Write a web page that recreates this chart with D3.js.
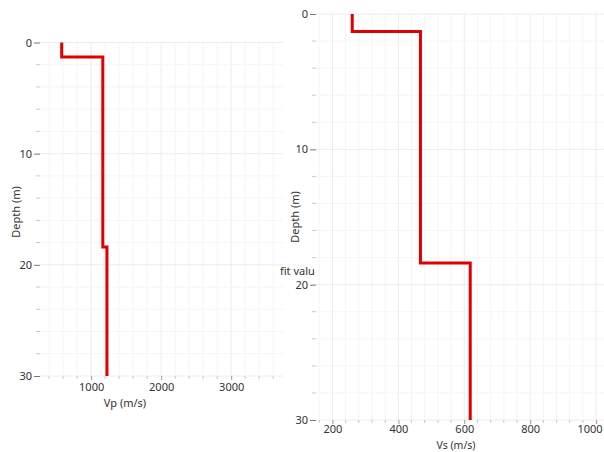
<!DOCTYPE html>
<html><head><meta charset="utf-8">
<script src="https://cdn.jsdelivr.net/npm/d3@7/dist/d3.min.js"></script>
<style>
html,body{margin:0;padding:0;background:#fff;}
text{font-family:"Noto Sans",sans-serif;}
</style></head>
<body><svg id="c" width="604" height="452"></svg>
<script>
// Layer model data
const layerTops = [0, 1.3, 18.4];
const bottomDepth = 30;
const vpValues = [580, 1167, 1226];
const vsValues = [260, 467, 618];
const depthTicks = [0, 10, 20, 30];
const vpTicks = [1000, 2000, 3000];
const vsTicks = [200, 400, 600, 800, 1000];

const svg = d3.select("#c");
svg.append("defs").append("clipPath").attr("id","labclip")
  .append("rect").attr("x",276).attr("y",255).attr("width",39).attr("height",30);

function profilePoints(vals){
  const pts = [];
  vals.forEach((v,i)=>{
    const top = layerTops[i];
    const bot = i+1 < layerTops.length ? layerTops[i+1] : bottomDepth;
    pts.push([v, top]); pts.push([v, bot]);
  });
  return pts;
}

function panel(cfg){
  const g = svg.append("g");
  const x = d3.scaleLinear().domain(cfg.xDomain).range(cfg.xRange);
  const y = d3.scaleLinear().domain([0, bottomDepth]).range(cfg.yRange);
  const [x0,x1] = cfg.xRange, [y0,y1] = cfg.yRange;
  const xMinor = d3.range(Math.ceil(cfg.xDomain[0]/cfg.xMinorStep)*cfg.xMinorStep, cfg.xDomain[1]+0.001, cfg.xMinorStep);
  const yMinor = d3.range(0, bottomDepth+0.001, 2);
  g.append("g").selectAll("line").data(xMinor).join("line")
    .attr("x1", d=>x(d)).attr("x2", d=>x(d)).attr("y1", y0).attr("y2", y1)
    .attr("stroke", d=> cfg.xTicks.includes(d) ? "#ececec" : "#f5f5f5").attr("stroke-width",1);
  g.append("g").selectAll("line").data(yMinor).join("line")
    .attr("y1", d=>y(d)).attr("y2", d=>y(d)).attr("x1", x0).attr("x2", x1)
    .attr("stroke", d=> depthTicks.includes(d) ? "#ececec" : "#f5f5f5").attr("stroke-width",1);
  const ya = d3.axisLeft(y).tickValues(depthTicks).tickFormat(d3.format("d")).tickSize(6).tickPadding(2);
  const yag = g.append("g").attr("transform",`translate(${x0},0)`).call(ya);
  yag.select(".domain").remove();
  yag.selectAll(".tick line").attr("stroke","#777");
  yag.selectAll(".tick text").attr("font-size",11).attr("fill","#333").style("font-family","Noto Sans");
  g.append("g").selectAll("line").data(yMinor.filter(d=>!depthTicks.includes(d))).join("line")
    .attr("x1", x0-4).attr("x2", x0).attr("y1", d=>y(d)).attr("y2", d=>y(d)).attr("stroke","#c8c8c8");
  const xa = d3.axisBottom(x).tickValues(cfg.xTicks).tickFormat(d3.format("d")).tickSize(4).tickPadding(cfg.xPad);
  const xag = g.append("g").attr("transform",`translate(0,${y1})`).call(xa);
  xag.select(".domain").remove();
  xag.selectAll(".tick line").attr("stroke","#999");
  xag.selectAll(".tick text").attr("font-size",11).attr("fill","#333").style("font-family","Noto Sans");
  if (cfg.lastEnd !== undefined) {
    xag.selectAll(".tick text").filter(d=>d===cfg.xTicks[cfg.xTicks.length-1])
      .attr("text-anchor","end").attr("dx", cfg.lastEnd);
  }
  g.append("g").selectAll("line").data(xMinor.filter(d=>!cfg.xTicks.includes(d))).join("line")
    .attr("x1", d=>x(d)).attr("x2", d=>x(d)).attr("y1", y1).attr("y2", y1+3).attr("stroke","#c8c8c8");
  g.append("text").attr("x", cfg.xTitlePos[0]).attr("y", cfg.xTitlePos[1]).attr("text-anchor","middle")
    .attr("font-size",cfg.titleSize).attr("fill","#333").text(cfg.xTitle);
  g.append("text").attr("transform",`translate(${cfg.yTitlePos[0]},${cfg.yTitlePos[1]}) rotate(-90)`)
    .attr("text-anchor","middle").attr("font-size",11).attr("fill","#333").text("Depth (m)");
  const line = d3.line().x(d=>x(d[0])).y(d=>y(d[1]));
  g.append("path").datum(profilePoints(cfg.values)).attr("d", line)
    .attr("fill","none").attr("stroke","#e00000").attr("stroke-width",3);
  return g;
}

panel({xDomain:[270,3740], xRange:[40,283], yRange:[42.5,376], xMinorStep:200, xPad:3, titleSize:11,
  xTicks:vpTicks, values:vpValues, xTitle:"Vp (m/s)", xTitlePos:[125,407], yTitlePos:[20,212]});

// partially hidden label between panels
svg.append("text").attr("x",280).attr("y",275).attr("font-size",11).attr("fill","#333")
  .attr("clip-path","url(#labclip)").text("fit value");

panel({xDomain:[150,1024], xRange:[316,604], yRange:[14,420], xMinorStep:40, xPad:1, titleSize:10.5,
  xTicks:vsTicks, values:vsValues, xTitle:"Vs (m/s)", xTitlePos:[456,449], yTitlePos:[299,217],
  lastEnd:6});
</script></body></html>
